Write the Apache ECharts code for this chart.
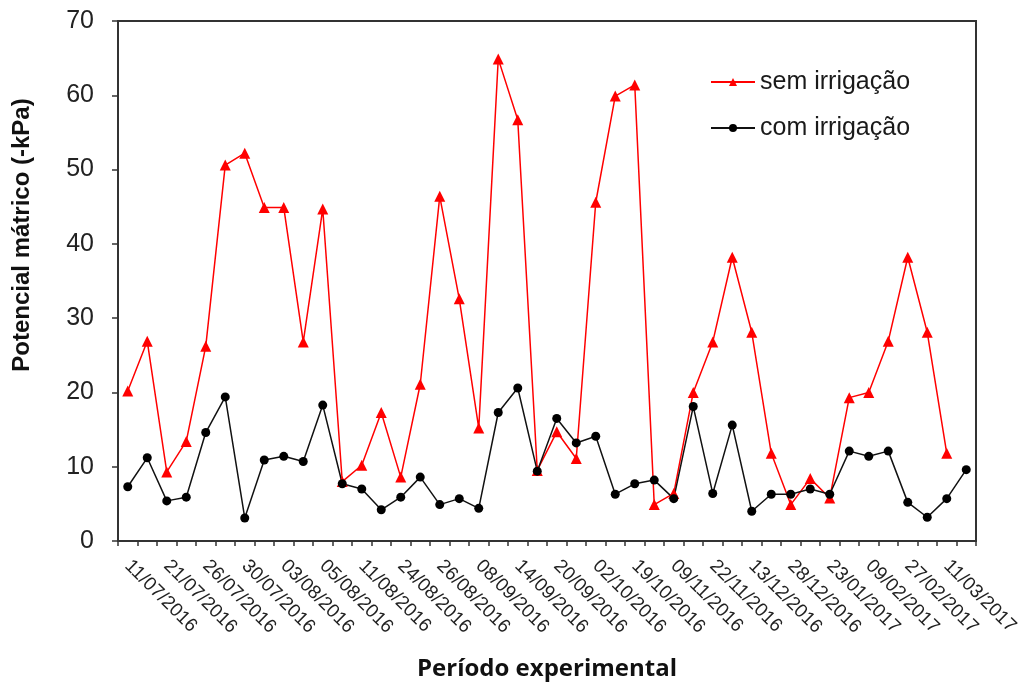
<!DOCTYPE html>
<html>
<head>
<meta charset="utf-8">
<script src="https://cdn.jsdelivr.net/npm/echarts@6/dist/echarts.min.js"></script>
<style>html,body{margin:0;padding:0;background:#fff}#chart{width:1020px;height:683px}</style>
</head>
<body>
<div id="chart"></div>
<script>
const categories = [
  '11/07/2016','', '21/07/2016','', '26/07/2016','', '30/07/2016','', '03/08/2016','', '05/08/2016','',
  '11/08/2016','', '24/08/2016','', '26/08/2016','', '08/09/2016','', '14/09/2016','', '20/09/2016','',
  '02/10/2016','', '19/10/2016','', '09/11/2016','', '22/11/2016','', '13/12/2016','', '28/12/2016','',
  '23/01/2017','', '09/02/2017','', '27/02/2017','', '11/03/2017',''
];
const semIrrigacao = [
  20.2, 26.9, 9.3, 13.4, 26.2, 50.6, 52.2, 44.9, 44.9, 26.8, 44.7,
  8.0, 10.2, 17.3, 8.6, 21.1, 46.4, 32.6, 15.2, 64.9, 56.7, 9.5,
  14.7, 11.1, 45.6, 59.9, 61.4, 4.9, 6.4, 20.0, 26.8, 38.2, 28.1,
  11.8, 4.9, 8.4, 5.8, 19.3, 20.0, 26.9, 38.2, 28.1, 11.8, null
];
const comIrrigacao = [
  7.3, 11.2, 5.4, 5.9, 14.6, 19.4, 3.1, 10.9, 11.4, 10.7, 18.3,
  7.7, 7.0, 4.2, 5.9, 8.6, 4.9, 5.7, 4.4, 17.3, 20.6, 9.4,
  16.5, 13.2, 14.1, 6.3, 7.7, 8.2, 5.7, 18.1, 6.4, 15.6, 4.0,
  6.3, 6.3, 7.0, 6.3, 12.1, 11.4, 12.1, 5.2, 3.2, 5.7, 9.6
];
const yTicks = { min: 0, max: 70, step: 10 };

const chart = echarts.init(document.getElementById('chart'), null, { renderer: 'canvas' });
const FONT = 'Liberation Sans, Arial, sans-serif';
chart.setOption({
  animation: false,
  backgroundColor: '#ffffff',
  grid: { left: 118, right: 44, top: 21, bottom: 142, show: true, borderColor: '#333', borderWidth: 2, containLabel: false, outerBoundsMode: 'none' },
  legend: {
    orient: 'vertical', left: 705, top: 64, itemWidth: 44, itemHeight: 10, itemGap: 20,
    textStyle: { fontFamily: FONT, fontSize: 25, color: '#1a1a1a', lineHeight: 26 },
    data: ['sem irrigação', 'com irrigação']
  },
  xAxis: {
    type: 'category', data: categories, boundaryGap: true,
    name: 'Período experimental', nameLocation: 'middle', nameGap: 116,
    nameTextStyle: { fontFamily: 'Open Sans, Liberation Sans, sans-serif', fontWeight: 'bold', fontSize: 24, color: '#111' },
    axisLine: { show: true, lineStyle: { color: '#333', width: 2 } },
    axisTick: { show: true, interval: 0, length: 5, inside: false, lineStyle: { color: '#333', width: 1.5 } },
    axisLabel: { interval: 1, rotate: -45, margin: 22, fontFamily: FONT, fontSize: 19, color: '#222' },
    splitLine: { show: false }
  },
  yAxis: {
    type: 'value', min: yTicks.min, max: yTicks.max, interval: yTicks.step,
    name: 'Potencial mátrico (-kPa)', nameLocation: 'middle', nameGap: 84,
    nameTextStyle: { fontFamily: FONT, fontWeight: 'bold', fontSize: 24, color: '#111', padding: [0, 0, 0, 92] },
    axisLine: { show: true, lineStyle: { color: '#333', width: 2 } },
    axisTick: { show: true, length: 6, inside: false, lineStyle: { color: '#333', width: 1.5 } },
    axisLabel: { margin: 24, fontFamily: FONT, fontSize: 25, color: '#222' },
    splitLine: { show: false }
  },
  series: [
    {
      name: 'sem irrigação', type: 'line', data: semIrrigacao, connectNulls: false,
      symbol: 'triangle', symbolSize: 11, showAllSymbol: true,
      lineStyle: { color: '#ff0000', width: 1.5 }, itemStyle: { color: '#ff0000' }
    },
    {
      name: 'com irrigação', type: 'line', data: comIrrigacao,
      symbol: 'circle', symbolSize: 9, showAllSymbol: true,
      lineStyle: { color: '#111', width: 1.5 }, itemStyle: { color: '#000' }
    }
  ]
});
</script>
</body>
</html>
